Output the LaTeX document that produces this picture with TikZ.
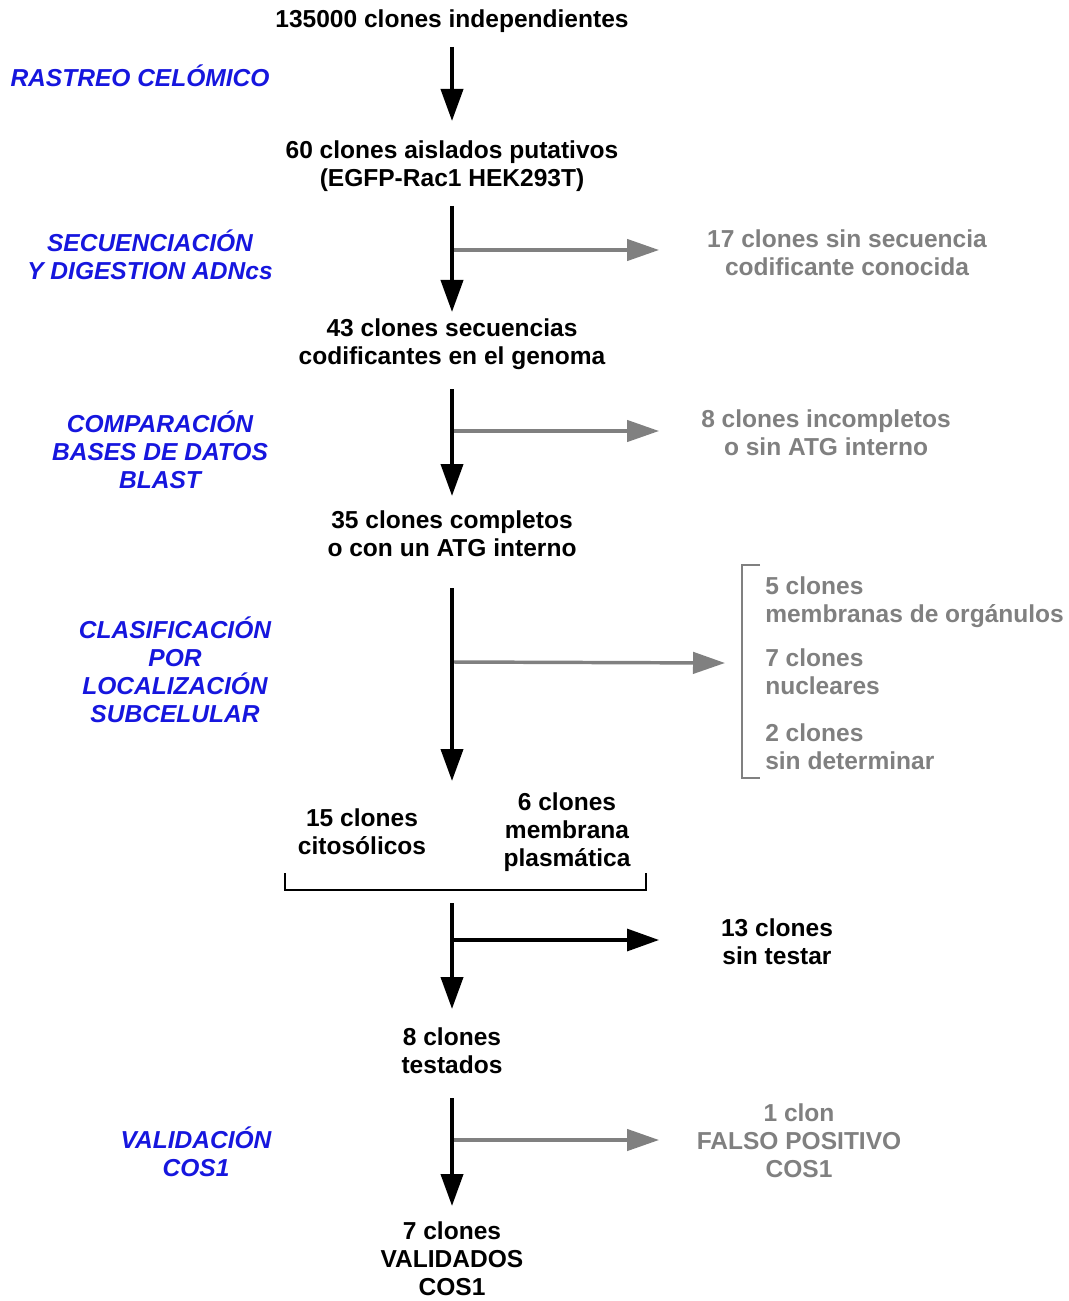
\documentclass[tikz,border=0pt]{standalone}
\usepackage{fontspec}
\setmainfont{Liberation Sans}
\usetikzlibrary{arrows.meta}
\definecolor{lblblue}{RGB}{22,22,222}
\definecolor{grtxt}{RGB}{128,128,128}
\tikzset{
  x=0.75pt, y=-0.75pt,
  txt/.style={inner sep=0pt, align=center, font=\fontsize{18.4}{21}\selectfont\bfseries},
  txtl/.style={inner sep=0pt, align=left, anchor=west, font=\fontsize{18.4}{21}\selectfont\bfseries, text=grtxt},
  gtxt/.style={txt, text=grtxt},
  btxt/.style={txt, text=lblblue, font=\fontsize{18.4}{21}\selectfont\bfseries\itshape},
  mainarrow/.style={line width=3pt, -{Triangle[length=24pt,width=16.5pt]}},
  grayarrow/.style={line width=2.6pt, draw=grtxt, -{Triangle[length=24pt,width=16pt]}, grtxt},
  blackarrow/.style={line width=2.4pt, -{Triangle[length=24pt,width=16.5pt]}},
  brk/.style={line width=1.5pt},
  gbrk/.style={line width=1.5pt, draw=grtxt}
}
\begin{document}
\begin{tikzpicture}
\useasboundingbox (0,0) rectangle (1069,1301);
% main column
\node[txt] (n1) at (452,21) {135000 clones independientes};
\node[txt] (n2) at (452,166) {60 clones aislados putativos\\(EGFP-Rac1 HEK293T)};
\node[txt] (n3) at (452,344) {43 clones secuencias\\codificantes en el genoma};
\node[txt] (n4) at (452,534) {35 clones completos\\o con un ATG interno};
\node[txt] (n5a) at (362,832) {15 clones\\citos\'olicos};
\node[txt] (n5b) at (567,832) {6 clones\\membrana\\plasm\'atica};
\node[txt] (n6) at (452,1051) {8 clones\\testados};
\node[txt] (n7) at (452,1259) {7 clones\\VALIDADOS\\COS1};
% side outcomes
\node[gtxt] (g1) at (847,253) {17 clones sin secuencia\\codificante conocida};
\node[gtxt] (g2) at (826,433) {8 clones incompletos\\o sin ATG interno};
\node[txtl] (g3a) at (765,602) {5 clones\\membranas de org\'anulos};
\node[txtl] (g3b) at (765,672) {7 clones\\nucleares};
\node[txtl] (g3c) at (765,747) {2 clones\\sin determinar};
\node[txt] (k1) at (777,942) {13 clones\\sin testar};
\node[gtxt] (g4) at (799,1141) {1 clon\\FALSO POSITIVO\\COS1};
% blue step labels
\node[btxt] (b1) at (140,76) {RASTREO CEL\'OMICO};
\node[btxt] (b2) at (150,255) {SECUENCIACI\'ON\\Y DIGESTION ADNcs};
\node[btxt] (b3) at (160,450) {COMPARACI\'ON\\BASES DE DATOS\\BLAST};
\node[btxt] (b4) at (175,670) {CLASIFICACI\'ON\\POR\\LOCALIZACI\'ON\\SUBCELULAR};
\node[btxt] (b5) at (196,1152) {VALIDACI\'ON\\COS1};
% arrow coordinates
\coordinate (a1s) at (452,47);  \coordinate (a1e) at (452,121);
\coordinate (a2s) at (452,206); \coordinate (a2e) at (452,312);
\coordinate (a3s) at (452,389); \coordinate (a3e) at (452,496);
\coordinate (a4s) at (452,588); \coordinate (a4e) at (452,781);
\coordinate (a5s) at (452,903); \coordinate (a5e) at (452,1009);
\coordinate (a6s) at (452,1098);\coordinate (a6e) at (452,1206);
\coordinate (h2s) at (452,250); \coordinate (h2e) at (659,250);
\coordinate (h3s) at (452,431); \coordinate (h3e) at (659,431);
\coordinate (h4s) at (452,662); \coordinate (h4e) at (725,663);
\coordinate (h5s) at (452,940); \coordinate (h5e) at (659,940);
\coordinate (h6s) at (452,1140);\coordinate (h6e) at (659,1140);
% branches first (under main arrows)
\draw[grayarrow] (h2s) -- (h2e);
\draw[grayarrow] (h3s) -- (h3e);
\draw[grayarrow] (h4s) -- (h4e);
\draw[blackarrow] (h5s) -- (h5e);
\draw[grayarrow] (h6s) -- (h6e);
\draw[mainarrow] (a1s) -- (a1e);
\draw[mainarrow] (a2s) -- (a2e);
\draw[mainarrow] (a3s) -- (a3e);
\draw[mainarrow] (a4s) -- (a4e);
\draw[mainarrow] (a5s) -- (a5e);
\draw[mainarrow] (a6s) -- (a6e);
% brackets
\coordinate (gb1) at (760,565); \coordinate (gb2) at (742,565);
\coordinate (gb3) at (742,778); \coordinate (gb4) at (760,778);
\draw[gbrk] (gb1) -- (gb2) -- (gb3) -- (gb4);
\coordinate (kb1) at (285,873); \coordinate (kb2) at (285,890);
\coordinate (kb3) at (646,890); \coordinate (kb4) at (646,873);
\draw[brk] (kb1) -- (kb2) -- (kb3) -- (kb4);
\end{tikzpicture}
\end{document}
